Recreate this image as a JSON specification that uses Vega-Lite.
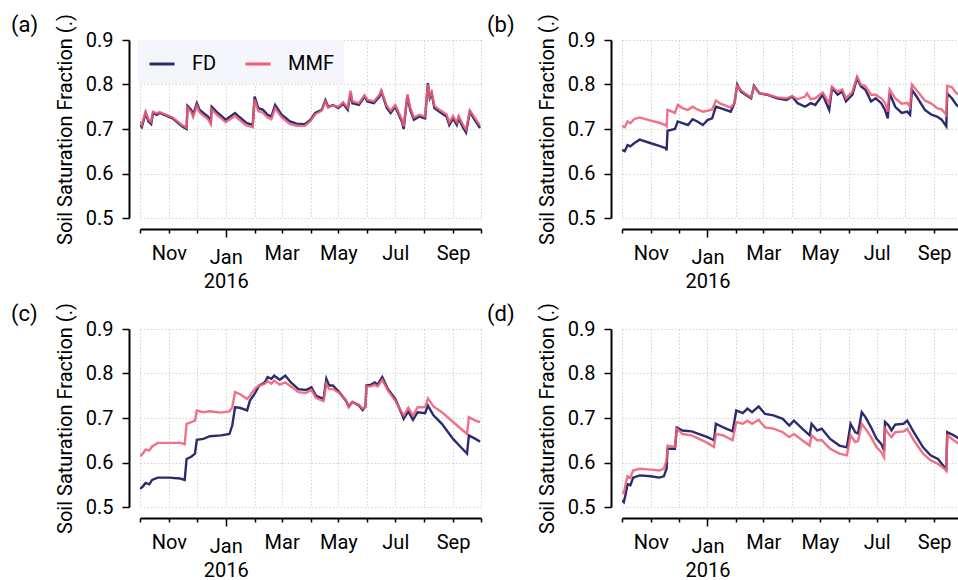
{
"$schema": "https://vega.github.io/schema/vega-lite/v6.json",
"background": "white",
"padding": {"left": 11, "top": 13, "right": 0, "bottom": 0},
"bounds": "flush",
"columns": 2,
"spacing": {"row": 111, "column": 141},
"datasets": {
"a": [
{"s":"FD","d":"2015-10-01","v":0.709},{"s":"FD","d":"2015-10-03","v":0.704},{"s":"FD","d":"2015-10-07","v":0.736},{"s":"FD","d":"2015-10-10","v":0.717},{"s":"FD","d":"2015-10-13","v":0.711},{"s":"FD","d":"2015-10-15","v":0.736},{"s":"FD","d":"2015-10-19","v":0.732},{"s":"FD","d":"2015-10-22","v":0.736},{"s":"FD","d":"2015-11-05","v":0.724},{"s":"FD","d":"2015-11-15","v":0.706},{"s":"FD","d":"2015-11-20","v":0.700},{"s":"FD","d":"2015-11-21","v":0.752},{"s":"FD","d":"2015-11-25","v":0.743},{"s":"FD","d":"2015-11-27","v":0.732},{"s":"FD","d":"2015-12-01","v":0.758},{"s":"FD","d":"2015-12-04","v":0.743},{"s":"FD","d":"2015-12-08","v":0.736},{"s":"FD","d":"2015-12-13","v":0.728},{"s":"FD","d":"2015-12-16","v":0.717},{"s":"FD","d":"2015-12-17","v":0.750},{"s":"FD","d":"2015-12-22","v":0.739},{"s":"FD","d":"2016-01-01","v":0.721},{"s":"FD","d":"2016-01-11","v":0.736},{"s":"FD","d":"2016-01-15","v":0.728},{"s":"FD","d":"2016-01-23","v":0.714},{"s":"FD","d":"2016-01-30","v":0.709},{"s":"FD","d":"2016-02-01","v":0.773},{"s":"FD","d":"2016-02-05","v":0.747},{"s":"FD","d":"2016-02-10","v":0.743},{"s":"FD","d":"2016-02-15","v":0.732},{"s":"FD","d":"2016-02-19","v":0.728},{"s":"FD","d":"2016-02-23","v":0.754},{"s":"FD","d":"2016-03-01","v":0.732},{"s":"FD","d":"2016-03-10","v":0.717},{"s":"FD","d":"2016-03-17","v":0.712},{"s":"FD","d":"2016-03-26","v":0.711},{"s":"FD","d":"2016-04-01","v":0.721},{"s":"FD","d":"2016-04-06","v":0.736},{"s":"FD","d":"2016-04-13","v":0.743},{"s":"FD","d":"2016-04-17","v":0.765},{"s":"FD","d":"2016-04-20","v":0.750},{"s":"FD","d":"2016-04-25","v":0.754},{"s":"FD","d":"2016-05-01","v":0.747},{"s":"FD","d":"2016-05-06","v":0.757},{"s":"FD","d":"2016-05-11","v":0.743},{"s":"FD","d":"2016-05-14","v":0.780},{"s":"FD","d":"2016-05-16","v":0.758},{"s":"FD","d":"2016-05-23","v":0.754},{"s":"FD","d":"2016-05-29","v":0.773},{"s":"FD","d":"2016-06-01","v":0.762},{"s":"FD","d":"2016-06-08","v":0.758},{"s":"FD","d":"2016-06-14","v":0.773},{"s":"FD","d":"2016-06-16","v":0.784},{"s":"FD","d":"2016-06-22","v":0.747},{"s":"FD","d":"2016-06-26","v":0.736},{"s":"FD","d":"2016-07-01","v":0.750},{"s":"FD","d":"2016-07-08","v":0.717},{"s":"FD","d":"2016-07-10","v":0.700},{"s":"FD","d":"2016-07-14","v":0.775},{"s":"FD","d":"2016-07-17","v":0.743},{"s":"FD","d":"2016-07-21","v":0.721},{"s":"FD","d":"2016-07-27","v":0.728},{"s":"FD","d":"2016-08-02","v":0.724},{"s":"FD","d":"2016-08-05","v":0.803},{"s":"FD","d":"2016-08-07","v":0.770},{"s":"FD","d":"2016-08-09","v":0.780},{"s":"FD","d":"2016-08-12","v":0.747},{"s":"FD","d":"2016-08-17","v":0.739},{"s":"FD","d":"2016-08-25","v":0.728},{"s":"FD","d":"2016-08-28","v":0.709},{"s":"FD","d":"2016-09-01","v":0.724},{"s":"FD","d":"2016-09-05","v":0.709},{"s":"FD","d":"2016-09-07","v":0.724},{"s":"FD","d":"2016-09-12","v":0.702},{"s":"FD","d":"2016-09-15","v":0.692},{"s":"FD","d":"2016-09-19","v":0.739},{"s":"FD","d":"2016-09-24","v":0.721},{"s":"FD","d":"2016-09-30","v":0.702},
{"s":"MMF","d":"2015-10-01","v":0.717},{"s":"MMF","d":"2015-10-03","v":0.709},{"s":"MMF","d":"2015-10-07","v":0.739},{"s":"MMF","d":"2015-10-10","v":0.722},{"s":"MMF","d":"2015-10-13","v":0.716},{"s":"MMF","d":"2015-10-15","v":0.739},{"s":"MMF","d":"2015-10-19","v":0.735},{"s":"MMF","d":"2015-10-22","v":0.738},{"s":"MMF","d":"2015-11-05","v":0.726},{"s":"MMF","d":"2015-11-15","v":0.709},{"s":"MMF","d":"2015-11-20","v":0.703},{"s":"MMF","d":"2015-11-21","v":0.748},{"s":"MMF","d":"2015-11-25","v":0.738},{"s":"MMF","d":"2015-11-27","v":0.727},{"s":"MMF","d":"2015-12-01","v":0.752},{"s":"MMF","d":"2015-12-04","v":0.737},{"s":"MMF","d":"2015-12-08","v":0.730},{"s":"MMF","d":"2015-12-13","v":0.722},{"s":"MMF","d":"2015-12-16","v":0.711},{"s":"MMF","d":"2015-12-17","v":0.744},{"s":"MMF","d":"2015-12-22","v":0.733},{"s":"MMF","d":"2016-01-01","v":0.715},{"s":"MMF","d":"2016-01-11","v":0.729},{"s":"MMF","d":"2016-01-15","v":0.722},{"s":"MMF","d":"2016-01-23","v":0.708},{"s":"MMF","d":"2016-01-30","v":0.704},{"s":"MMF","d":"2016-02-01","v":0.766},{"s":"MMF","d":"2016-02-05","v":0.740},{"s":"MMF","d":"2016-02-10","v":0.736},{"s":"MMF","d":"2016-02-15","v":0.726},{"s":"MMF","d":"2016-02-19","v":0.722},{"s":"MMF","d":"2016-02-23","v":0.747},{"s":"MMF","d":"2016-03-01","v":0.726},{"s":"MMF","d":"2016-03-10","v":0.711},{"s":"MMF","d":"2016-03-17","v":0.707},{"s":"MMF","d":"2016-03-26","v":0.707},{"s":"MMF","d":"2016-04-01","v":0.718},{"s":"MMF","d":"2016-04-06","v":0.733},{"s":"MMF","d":"2016-04-13","v":0.741},{"s":"MMF","d":"2016-04-17","v":0.762},{"s":"MMF","d":"2016-04-20","v":0.748},{"s":"MMF","d":"2016-04-25","v":0.753},{"s":"MMF","d":"2016-05-01","v":0.750},{"s":"MMF","d":"2016-05-06","v":0.760},{"s":"MMF","d":"2016-05-11","v":0.748},{"s":"MMF","d":"2016-05-14","v":0.786},{"s":"MMF","d":"2016-05-16","v":0.762},{"s":"MMF","d":"2016-05-23","v":0.758},{"s":"MMF","d":"2016-05-29","v":0.776},{"s":"MMF","d":"2016-06-01","v":0.766},{"s":"MMF","d":"2016-06-08","v":0.762},{"s":"MMF","d":"2016-06-14","v":0.777},{"s":"MMF","d":"2016-06-16","v":0.787},{"s":"MMF","d":"2016-06-22","v":0.752},{"s":"MMF","d":"2016-06-26","v":0.741},{"s":"MMF","d":"2016-07-01","v":0.754},{"s":"MMF","d":"2016-07-08","v":0.722},{"s":"MMF","d":"2016-07-10","v":0.706},{"s":"MMF","d":"2016-07-14","v":0.778},{"s":"MMF","d":"2016-07-17","v":0.748},{"s":"MMF","d":"2016-07-21","v":0.726},{"s":"MMF","d":"2016-07-27","v":0.732},{"s":"MMF","d":"2016-08-02","v":0.728},{"s":"MMF","d":"2016-08-05","v":0.800},{"s":"MMF","d":"2016-08-07","v":0.774},{"s":"MMF","d":"2016-08-09","v":0.783},{"s":"MMF","d":"2016-08-12","v":0.752},{"s":"MMF","d":"2016-08-17","v":0.744},{"s":"MMF","d":"2016-08-25","v":0.733},{"s":"MMF","d":"2016-08-28","v":0.715},{"s":"MMF","d":"2016-09-01","v":0.729},{"s":"MMF","d":"2016-09-05","v":0.715},{"s":"MMF","d":"2016-09-07","v":0.729},{"s":"MMF","d":"2016-09-12","v":0.708},{"s":"MMF","d":"2016-09-15","v":0.699},{"s":"MMF","d":"2016-09-19","v":0.742},{"s":"MMF","d":"2016-09-24","v":0.726},{"s":"MMF","d":"2016-09-30","v":0.708}
],
"b": [
{"s":"FD","d":"2015-10-01","v":0.653},{"s":"FD","d":"2015-10-04","v":0.650},{"s":"FD","d":"2015-10-07","v":0.664},{"s":"FD","d":"2015-10-10","v":0.661},{"s":"FD","d":"2015-10-14","v":0.668},{"s":"FD","d":"2015-10-20","v":0.676},{"s":"FD","d":"2015-11-01","v":0.668},{"s":"FD","d":"2015-11-10","v":0.662},{"s":"FD","d":"2015-11-17","v":0.657},{"s":"FD","d":"2015-11-18","v":0.652},{"s":"FD","d":"2015-11-19","v":0.696},{"s":"FD","d":"2015-11-27","v":0.700},{"s":"FD","d":"2015-11-30","v":0.717},{"s":"FD","d":"2015-12-05","v":0.713},{"s":"FD","d":"2015-12-11","v":0.709},{"s":"FD","d":"2015-12-16","v":0.722},{"s":"FD","d":"2015-12-21","v":0.717},{"s":"FD","d":"2015-12-27","v":0.709},{"s":"FD","d":"2016-01-01","v":0.720},{"s":"FD","d":"2016-01-06","v":0.724},{"s":"FD","d":"2016-01-10","v":0.750},{"s":"FD","d":"2016-01-15","v":0.747},{"s":"FD","d":"2016-01-26","v":0.739},{"s":"FD","d":"2016-01-30","v":0.758},{"s":"FD","d":"2016-02-02","v":0.800},{"s":"FD","d":"2016-02-06","v":0.784},{"s":"FD","d":"2016-02-11","v":0.777},{"s":"FD","d":"2016-02-17","v":0.769},{"s":"FD","d":"2016-02-20","v":0.797},{"s":"FD","d":"2016-02-26","v":0.780},{"s":"FD","d":"2016-03-05","v":0.777},{"s":"FD","d":"2016-03-16","v":0.769},{"s":"FD","d":"2016-03-26","v":0.765},{"s":"FD","d":"2016-04-01","v":0.773},{"s":"FD","d":"2016-04-07","v":0.758},{"s":"FD","d":"2016-04-15","v":0.750},{"s":"FD","d":"2016-04-21","v":0.758},{"s":"FD","d":"2016-04-26","v":0.754},{"s":"FD","d":"2016-05-04","v":0.777},{"s":"FD","d":"2016-05-11","v":0.743},{"s":"FD","d":"2016-05-14","v":0.792},{"s":"FD","d":"2016-05-20","v":0.777},{"s":"FD","d":"2016-05-25","v":0.784},{"s":"FD","d":"2016-05-29","v":0.762},{"s":"FD","d":"2016-06-05","v":0.777},{"s":"FD","d":"2016-06-10","v":0.814},{"s":"FD","d":"2016-06-14","v":0.796},{"s":"FD","d":"2016-06-19","v":0.788},{"s":"FD","d":"2016-06-25","v":0.762},{"s":"FD","d":"2016-06-30","v":0.769},{"s":"FD","d":"2016-07-06","v":0.758},{"s":"FD","d":"2016-07-10","v":0.743},{"s":"FD","d":"2016-07-13","v":0.724},{"s":"FD","d":"2016-07-15","v":0.780},{"s":"FD","d":"2016-07-21","v":0.750},{"s":"FD","d":"2016-07-28","v":0.736},{"s":"FD","d":"2016-08-03","v":0.739},{"s":"FD","d":"2016-08-06","v":0.732},{"s":"FD","d":"2016-08-08","v":0.788},{"s":"FD","d":"2016-08-13","v":0.773},{"s":"FD","d":"2016-08-22","v":0.743},{"s":"FD","d":"2016-08-29","v":0.732},{"s":"FD","d":"2016-09-04","v":0.728},{"s":"FD","d":"2016-09-09","v":0.721},{"s":"FD","d":"2016-09-14","v":0.706},{"s":"FD","d":"2016-09-15","v":0.780},{"s":"FD","d":"2016-09-20","v":0.769},{"s":"FD","d":"2016-09-25","v":0.754},{"s":"FD","d":"2016-09-30","v":0.745},
{"s":"MMF","d":"2015-10-01","v":0.707},{"s":"MMF","d":"2015-10-04","v":0.704},{"s":"MMF","d":"2015-10-07","v":0.717},{"s":"MMF","d":"2015-10-10","v":0.713},{"s":"MMF","d":"2015-10-14","v":0.722},{"s":"MMF","d":"2015-10-20","v":0.726},{"s":"MMF","d":"2015-11-01","v":0.719},{"s":"MMF","d":"2015-11-10","v":0.714},{"s":"MMF","d":"2015-11-17","v":0.709},{"s":"MMF","d":"2015-11-18","v":0.706},{"s":"MMF","d":"2015-11-19","v":0.743},{"s":"MMF","d":"2015-11-27","v":0.736},{"s":"MMF","d":"2015-11-30","v":0.754},{"s":"MMF","d":"2015-12-05","v":0.747},{"s":"MMF","d":"2015-12-11","v":0.743},{"s":"MMF","d":"2015-12-16","v":0.750},{"s":"MMF","d":"2015-12-21","v":0.744},{"s":"MMF","d":"2015-12-27","v":0.739},{"s":"MMF","d":"2016-01-01","v":0.741},{"s":"MMF","d":"2016-01-06","v":0.744},{"s":"MMF","d":"2016-01-10","v":0.764},{"s":"MMF","d":"2016-01-15","v":0.757},{"s":"MMF","d":"2016-01-26","v":0.748},{"s":"MMF","d":"2016-01-30","v":0.758},{"s":"MMF","d":"2016-02-02","v":0.797},{"s":"MMF","d":"2016-02-06","v":0.787},{"s":"MMF","d":"2016-02-11","v":0.779},{"s":"MMF","d":"2016-02-17","v":0.771},{"s":"MMF","d":"2016-02-20","v":0.795},{"s":"MMF","d":"2016-02-26","v":0.780},{"s":"MMF","d":"2016-03-05","v":0.778},{"s":"MMF","d":"2016-03-16","v":0.771},{"s":"MMF","d":"2016-03-26","v":0.769},{"s":"MMF","d":"2016-04-01","v":0.774},{"s":"MMF","d":"2016-04-07","v":0.767},{"s":"MMF","d":"2016-04-15","v":0.773},{"s":"MMF","d":"2016-04-17","v":0.780},{"s":"MMF","d":"2016-04-21","v":0.767},{"s":"MMF","d":"2016-04-26","v":0.769},{"s":"MMF","d":"2016-05-04","v":0.782},{"s":"MMF","d":"2016-05-11","v":0.758},{"s":"MMF","d":"2016-05-14","v":0.795},{"s":"MMF","d":"2016-05-20","v":0.784},{"s":"MMF","d":"2016-05-25","v":0.789},{"s":"MMF","d":"2016-05-29","v":0.769},{"s":"MMF","d":"2016-06-05","v":0.784},{"s":"MMF","d":"2016-06-10","v":0.818},{"s":"MMF","d":"2016-06-14","v":0.800},{"s":"MMF","d":"2016-06-19","v":0.796},{"s":"MMF","d":"2016-06-25","v":0.777},{"s":"MMF","d":"2016-06-30","v":0.777},{"s":"MMF","d":"2016-07-06","v":0.769},{"s":"MMF","d":"2016-07-10","v":0.759},{"s":"MMF","d":"2016-07-13","v":0.739},{"s":"MMF","d":"2016-07-15","v":0.789},{"s":"MMF","d":"2016-07-21","v":0.769},{"s":"MMF","d":"2016-07-28","v":0.757},{"s":"MMF","d":"2016-08-03","v":0.759},{"s":"MMF","d":"2016-08-06","v":0.750},{"s":"MMF","d":"2016-08-08","v":0.800},{"s":"MMF","d":"2016-08-13","v":0.787},{"s":"MMF","d":"2016-08-22","v":0.764},{"s":"MMF","d":"2016-08-29","v":0.757},{"s":"MMF","d":"2016-09-04","v":0.747},{"s":"MMF","d":"2016-09-09","v":0.744},{"s":"MMF","d":"2016-09-14","v":0.732},{"s":"MMF","d":"2016-09-15","v":0.797},{"s":"MMF","d":"2016-09-20","v":0.794},{"s":"MMF","d":"2016-09-25","v":0.780},{"s":"MMF","d":"2016-09-30","v":0.775}
],
"c": [
{"s":"FD","d":"2015-10-01","v":0.541},{"s":"FD","d":"2015-10-04","v":0.546},{"s":"FD","d":"2015-10-07","v":0.554},{"s":"FD","d":"2015-10-11","v":0.551},{"s":"FD","d":"2015-10-14","v":0.561},{"s":"FD","d":"2015-10-20","v":0.566},{"s":"FD","d":"2015-11-01","v":0.566},{"s":"FD","d":"2015-11-13","v":0.564},{"s":"FD","d":"2015-11-18","v":0.561},{"s":"FD","d":"2015-11-20","v":0.608},{"s":"FD","d":"2015-11-25","v":0.613},{"s":"FD","d":"2015-11-29","v":0.620},{"s":"FD","d":"2015-12-01","v":0.651},{"s":"FD","d":"2015-12-08","v":0.653},{"s":"FD","d":"2015-12-15","v":0.659},{"s":"FD","d":"2015-12-27","v":0.661},{"s":"FD","d":"2016-01-05","v":0.664},{"s":"FD","d":"2016-01-08","v":0.683},{"s":"FD","d":"2016-01-11","v":0.724},{"s":"FD","d":"2016-01-16","v":0.723},{"s":"FD","d":"2016-01-24","v":0.717},{"s":"FD","d":"2016-01-27","v":0.739},{"s":"FD","d":"2016-02-01","v":0.754},{"s":"FD","d":"2016-02-06","v":0.773},{"s":"FD","d":"2016-02-12","v":0.780},{"s":"FD","d":"2016-02-15","v":0.792},{"s":"FD","d":"2016-02-19","v":0.788},{"s":"FD","d":"2016-02-22","v":0.795},{"s":"FD","d":"2016-02-28","v":0.786},{"s":"FD","d":"2016-03-05","v":0.795},{"s":"FD","d":"2016-03-11","v":0.780},{"s":"FD","d":"2016-03-19","v":0.765},{"s":"FD","d":"2016-03-27","v":0.763},{"s":"FD","d":"2016-04-02","v":0.769},{"s":"FD","d":"2016-04-07","v":0.750},{"s":"FD","d":"2016-04-15","v":0.743},{"s":"FD","d":"2016-04-18","v":0.788},{"s":"FD","d":"2016-04-21","v":0.773},{"s":"FD","d":"2016-04-25","v":0.773},{"s":"FD","d":"2016-05-02","v":0.758},{"s":"FD","d":"2016-05-09","v":0.739},{"s":"FD","d":"2016-05-12","v":0.726},{"s":"FD","d":"2016-05-16","v":0.736},{"s":"FD","d":"2016-05-23","v":0.728},{"s":"FD","d":"2016-05-27","v":0.718},{"s":"FD","d":"2016-05-30","v":0.726},{"s":"FD","d":"2016-05-31","v":0.773},{"s":"FD","d":"2016-06-05","v":0.775},{"s":"FD","d":"2016-06-09","v":0.780},{"s":"FD","d":"2016-06-12","v":0.775},{"s":"FD","d":"2016-06-17","v":0.792},{"s":"FD","d":"2016-06-23","v":0.765},{"s":"FD","d":"2016-07-01","v":0.743},{"s":"FD","d":"2016-07-08","v":0.709},{"s":"FD","d":"2016-07-10","v":0.698},{"s":"FD","d":"2016-07-15","v":0.715},{"s":"FD","d":"2016-07-20","v":0.696},{"s":"FD","d":"2016-07-25","v":0.713},{"s":"FD","d":"2016-08-02","v":0.711},{"s":"FD","d":"2016-08-05","v":0.728},{"s":"FD","d":"2016-08-11","v":0.706},{"s":"FD","d":"2016-08-20","v":0.687},{"s":"FD","d":"2016-09-01","v":0.653},{"s":"FD","d":"2016-09-11","v":0.631},{"s":"FD","d":"2016-09-16","v":0.620},{"s":"FD","d":"2016-09-18","v":0.661},{"s":"FD","d":"2016-09-25","v":0.653},{"s":"FD","d":"2016-09-30","v":0.647},
{"s":"MMF","d":"2015-10-01","v":0.614},{"s":"MMF","d":"2015-10-04","v":0.620},{"s":"MMF","d":"2015-10-07","v":0.629},{"s":"MMF","d":"2015-10-11","v":0.627},{"s":"MMF","d":"2015-10-14","v":0.636},{"s":"MMF","d":"2015-10-20","v":0.644},{"s":"MMF","d":"2015-11-01","v":0.644},{"s":"MMF","d":"2015-11-13","v":0.644},{"s":"MMF","d":"2015-11-18","v":0.641},{"s":"MMF","d":"2015-11-20","v":0.687},{"s":"MMF","d":"2015-11-25","v":0.691},{"s":"MMF","d":"2015-11-29","v":0.694},{"s":"MMF","d":"2015-12-01","v":0.717},{"s":"MMF","d":"2015-12-08","v":0.713},{"s":"MMF","d":"2015-12-15","v":0.715},{"s":"MMF","d":"2015-12-27","v":0.712},{"s":"MMF","d":"2016-01-05","v":0.715},{"s":"MMF","d":"2016-01-08","v":0.724},{"s":"MMF","d":"2016-01-11","v":0.758},{"s":"MMF","d":"2016-01-16","v":0.754},{"s":"MMF","d":"2016-01-24","v":0.743},{"s":"MMF","d":"2016-01-27","v":0.750},{"s":"MMF","d":"2016-02-01","v":0.765},{"s":"MMF","d":"2016-02-06","v":0.773},{"s":"MMF","d":"2016-02-12","v":0.777},{"s":"MMF","d":"2016-02-15","v":0.783},{"s":"MMF","d":"2016-02-19","v":0.777},{"s":"MMF","d":"2016-02-22","v":0.784},{"s":"MMF","d":"2016-02-28","v":0.775},{"s":"MMF","d":"2016-03-05","v":0.780},{"s":"MMF","d":"2016-03-11","v":0.771},{"s":"MMF","d":"2016-03-19","v":0.758},{"s":"MMF","d":"2016-03-27","v":0.756},{"s":"MMF","d":"2016-04-02","v":0.763},{"s":"MMF","d":"2016-04-07","v":0.745},{"s":"MMF","d":"2016-04-15","v":0.738},{"s":"MMF","d":"2016-04-18","v":0.777},{"s":"MMF","d":"2016-04-21","v":0.765},{"s":"MMF","d":"2016-04-25","v":0.765},{"s":"MMF","d":"2016-05-02","v":0.756},{"s":"MMF","d":"2016-05-09","v":0.739},{"s":"MMF","d":"2016-05-12","v":0.724},{"s":"MMF","d":"2016-05-16","v":0.736},{"s":"MMF","d":"2016-05-23","v":0.730},{"s":"MMF","d":"2016-05-27","v":0.721},{"s":"MMF","d":"2016-05-30","v":0.724},{"s":"MMF","d":"2016-05-31","v":0.771},{"s":"MMF","d":"2016-06-05","v":0.771},{"s":"MMF","d":"2016-06-09","v":0.775},{"s":"MMF","d":"2016-06-12","v":0.771},{"s":"MMF","d":"2016-06-17","v":0.786},{"s":"MMF","d":"2016-06-23","v":0.762},{"s":"MMF","d":"2016-07-01","v":0.739},{"s":"MMF","d":"2016-07-08","v":0.713},{"s":"MMF","d":"2016-07-10","v":0.706},{"s":"MMF","d":"2016-07-15","v":0.723},{"s":"MMF","d":"2016-07-20","v":0.706},{"s":"MMF","d":"2016-07-25","v":0.724},{"s":"MMF","d":"2016-08-02","v":0.724},{"s":"MMF","d":"2016-08-05","v":0.744},{"s":"MMF","d":"2016-08-11","v":0.726},{"s":"MMF","d":"2016-08-20","v":0.713},{"s":"MMF","d":"2016-09-01","v":0.691},{"s":"MMF","d":"2016-09-11","v":0.673},{"s":"MMF","d":"2016-09-16","v":0.664},{"s":"MMF","d":"2016-09-18","v":0.702},{"s":"MMF","d":"2016-09-25","v":0.694},{"s":"MMF","d":"2016-09-30","v":0.691}
],
"d": [
{"s":"FD","d":"2015-10-01","v":0.515},{"s":"FD","d":"2015-10-03","v":0.511},{"s":"FD","d":"2015-10-05","v":0.530},{"s":"FD","d":"2015-10-07","v":0.551},{"s":"FD","d":"2015-10-10","v":0.549},{"s":"FD","d":"2015-10-13","v":0.566},{"s":"FD","d":"2015-10-20","v":0.571},{"s":"FD","d":"2015-11-01","v":0.569},{"s":"FD","d":"2015-11-10","v":0.566},{"s":"FD","d":"2015-11-15","v":0.569},{"s":"FD","d":"2015-11-18","v":0.586},{"s":"FD","d":"2015-11-19","v":0.631},{"s":"FD","d":"2015-11-27","v":0.631},{"s":"FD","d":"2015-11-29","v":0.679},{"s":"FD","d":"2015-12-05","v":0.672},{"s":"FD","d":"2015-12-15","v":0.670},{"s":"FD","d":"2016-01-01","v":0.657},{"s":"FD","d":"2016-01-08","v":0.650},{"s":"FD","d":"2016-01-10","v":0.687},{"s":"FD","d":"2016-01-18","v":0.679},{"s":"FD","d":"2016-01-28","v":0.670},{"s":"FD","d":"2016-02-01","v":0.717},{"s":"FD","d":"2016-02-08","v":0.711},{"s":"FD","d":"2016-02-13","v":0.721},{"s":"FD","d":"2016-02-18","v":0.713},{"s":"FD","d":"2016-02-25","v":0.726},{"s":"FD","d":"2016-03-03","v":0.709},{"s":"FD","d":"2016-03-12","v":0.706},{"s":"FD","d":"2016-03-22","v":0.698},{"s":"FD","d":"2016-03-29","v":0.683},{"s":"FD","d":"2016-04-03","v":0.694},{"s":"FD","d":"2016-04-12","v":0.676},{"s":"FD","d":"2016-04-20","v":0.661},{"s":"FD","d":"2016-04-22","v":0.687},{"s":"FD","d":"2016-04-28","v":0.672},{"s":"FD","d":"2016-05-03","v":0.676},{"s":"FD","d":"2016-05-12","v":0.653},{"s":"FD","d":"2016-05-22","v":0.638},{"s":"FD","d":"2016-05-30","v":0.634},{"s":"FD","d":"2016-06-03","v":0.687},{"s":"FD","d":"2016-06-08","v":0.668},{"s":"FD","d":"2016-06-11","v":0.665},{"s":"FD","d":"2016-06-15","v":0.713},{"s":"FD","d":"2016-06-19","v":0.702},{"s":"FD","d":"2016-06-25","v":0.679},{"s":"FD","d":"2016-07-01","v":0.653},{"s":"FD","d":"2016-07-06","v":0.642},{"s":"FD","d":"2016-07-09","v":0.627},{"s":"FD","d":"2016-07-10","v":0.691},{"s":"FD","d":"2016-07-14","v":0.683},{"s":"FD","d":"2016-07-17","v":0.672},{"s":"FD","d":"2016-07-21","v":0.685},{"s":"FD","d":"2016-07-30","v":0.687},{"s":"FD","d":"2016-08-03","v":0.694},{"s":"FD","d":"2016-08-10","v":0.668},{"s":"FD","d":"2016-08-20","v":0.634},{"s":"FD","d":"2016-08-28","v":0.616},{"s":"FD","d":"2016-09-05","v":0.608},{"s":"FD","d":"2016-09-12","v":0.590},{"s":"FD","d":"2016-09-14","v":0.586},{"s":"FD","d":"2016-09-15","v":0.668},{"s":"FD","d":"2016-09-22","v":0.661},{"s":"FD","d":"2016-09-30","v":0.650},
{"s":"MMF","d":"2015-10-01","v":0.534},{"s":"MMF","d":"2015-10-03","v":0.531},{"s":"MMF","d":"2015-10-05","v":0.552},{"s":"MMF","d":"2015-10-07","v":0.569},{"s":"MMF","d":"2015-10-10","v":0.566},{"s":"MMF","d":"2015-10-13","v":0.582},{"s":"MMF","d":"2015-10-20","v":0.586},{"s":"MMF","d":"2015-11-01","v":0.584},{"s":"MMF","d":"2015-11-10","v":0.582},{"s":"MMF","d":"2015-11-15","v":0.586},{"s":"MMF","d":"2015-11-18","v":0.605},{"s":"MMF","d":"2015-11-19","v":0.638},{"s":"MMF","d":"2015-11-27","v":0.635},{"s":"MMF","d":"2015-11-29","v":0.676},{"s":"MMF","d":"2015-12-05","v":0.664},{"s":"MMF","d":"2015-12-15","v":0.661},{"s":"MMF","d":"2016-01-01","v":0.644},{"s":"MMF","d":"2016-01-08","v":0.635},{"s":"MMF","d":"2016-01-10","v":0.664},{"s":"MMF","d":"2016-01-18","v":0.661},{"s":"MMF","d":"2016-01-28","v":0.650},{"s":"MMF","d":"2016-02-01","v":0.691},{"s":"MMF","d":"2016-02-08","v":0.687},{"s":"MMF","d":"2016-02-13","v":0.694},{"s":"MMF","d":"2016-02-18","v":0.687},{"s":"MMF","d":"2016-02-25","v":0.696},{"s":"MMF","d":"2016-03-03","v":0.679},{"s":"MMF","d":"2016-03-12","v":0.676},{"s":"MMF","d":"2016-03-22","v":0.668},{"s":"MMF","d":"2016-03-29","v":0.657},{"s":"MMF","d":"2016-04-03","v":0.664},{"s":"MMF","d":"2016-04-12","v":0.650},{"s":"MMF","d":"2016-04-20","v":0.638},{"s":"MMF","d":"2016-04-22","v":0.661},{"s":"MMF","d":"2016-04-28","v":0.650},{"s":"MMF","d":"2016-05-03","v":0.650},{"s":"MMF","d":"2016-05-12","v":0.631},{"s":"MMF","d":"2016-05-22","v":0.620},{"s":"MMF","d":"2016-05-30","v":0.616},{"s":"MMF","d":"2016-06-03","v":0.661},{"s":"MMF","d":"2016-06-08","v":0.646},{"s":"MMF","d":"2016-06-11","v":0.648},{"s":"MMF","d":"2016-06-15","v":0.687},{"s":"MMF","d":"2016-06-19","v":0.676},{"s":"MMF","d":"2016-06-25","v":0.657},{"s":"MMF","d":"2016-07-01","v":0.634},{"s":"MMF","d":"2016-07-06","v":0.623},{"s":"MMF","d":"2016-07-09","v":0.612},{"s":"MMF","d":"2016-07-10","v":0.676},{"s":"MMF","d":"2016-07-14","v":0.664},{"s":"MMF","d":"2016-07-17","v":0.657},{"s":"MMF","d":"2016-07-21","v":0.668},{"s":"MMF","d":"2016-07-30","v":0.670},{"s":"MMF","d":"2016-08-03","v":0.676},{"s":"MMF","d":"2016-08-10","v":0.650},{"s":"MMF","d":"2016-08-20","v":0.620},{"s":"MMF","d":"2016-08-28","v":0.605},{"s":"MMF","d":"2016-09-05","v":0.597},{"s":"MMF","d":"2016-09-12","v":0.586},{"s":"MMF","d":"2016-09-14","v":0.581},{"s":"MMF","d":"2016-09-15","v":0.661},{"s":"MMF","d":"2016-09-22","v":0.650},{"s":"MMF","d":"2016-09-30","v":0.638}
]
},
"resolve": {"scale": {"x": "independent", "y": "independent", "color": "independent"}, "legend": {"color": "independent"}},
"config": {
  "font": "Roboto",
  "view": {"stroke": null},
  "title": {"font": "Roboto", "fontSize": 22, "fontWeight": "normal", "color": "black", "anchor": "start", "frame": "group", "offset": -23},
  "axis": {
    "labelFont": "Roboto", "labelFontSize": 20, "labelColor": "black",
    "titleFont": "Roboto", "titleFontSize": 20, "titleFontWeight": "normal", "titleColor": "black",
    "domainColor": "black", "domainWidth": 2, "tickColor": "black", "tickWidth": 1.5,
    "grid": true, "gridColor": "#d2d2d2", "gridDash": [1.5, 2], "gridWidth": 1,
    "labelOverlap": false, "labelBound": false, "labelFlush": false
  },
  "legend": {"labelFont": "Roboto"}
},
"concat": [
{
  "width": 341, "height": 178,
  "title": {"text": "(a)", "dx": -129},
  "data": {"name": "a"},
  "mark": {"type": "line", "strokeWidth": 2.4, "clip": true},
  "encoding": {
    "x": {"field": "d", "type": "temporal",
      "scale": {"type": "utc", "domain": [{"year": 2015, "month": 10, "date": 1, "utc": true}, {"year": 2016, "month": 10, "date": 1, "utc": true}]},
      "axis": {"title": null, "offset": 11, "tickCount": {"interval": "month", "step": 1},
        "tickSize": {"condition": {"test": "utcmonth(datum.value) == 0", "value": 8}, "value": 4},
        "labelPadding": 10, "labelLineHeight": 24,
        "labelExpr": "utcmonth(datum.value) % 2 == 1 ? '' : (utcmonth(datum.value) == 0 ? [utcFormat(datum.value, '%b'), utcFormat(datum.value, '%Y')] : utcFormat(datum.value, '%b'))"}},
    "y": {"field": "v", "type": "quantitative",
      "scale": {"domain": [0.5, 0.9], "nice": false, "zero": false},
      "axis": {"title": "Soil Saturation Fraction (.)", "values": [0.5, 0.6, 0.7, 0.8, 0.9], "format": ".1f", "offset": 11, "tickSize": 7, "labelPadding": 9, "titlePadding": 10}},
    "color": {"field": "s", "type": "nominal",
      "scale": {"domain": ["FD", "MMF"], "range": ["#2b2c6f", "#ef5d78"]},
      "legend": {"orient": "none", "legendX": -2, "legendY": 0, "direction": "horizontal", "title": null,
        "symbolType": "stroke", "symbolSize": 625, "symbolStrokeWidth": 3, "labelFontSize": 20, "labelColor": "black",
        "labelOffset": 16, "columnPadding": 22, "padding": 10, "fillColor": "#f4f6fb"}},
    "opacity": {"condition": {"test": "datum.s == 'MMF'", "value": 0.88}, "value": 1}
  }
},
{
  "width": 336, "height": 178,
  "title": {"text": "(b)", "dx": -135},
  "data": {"name": "b"},
  "mark": {"type": "line", "strokeWidth": 2.4, "clip": true},
  "encoding": {
    "x": {"field": "d", "type": "temporal",
      "scale": {"type": "utc", "domain": [{"year": 2015, "month": 10, "date": 1, "utc": true}, {"year": 2016, "month": 9, "date": 26, "hours": 14, "utc": true}]},
      "axis": {"title": null, "offset": 11, "tickCount": {"interval": "month", "step": 1},
        "tickSize": {"condition": {"test": "utcmonth(datum.value) == 0", "value": 8}, "value": 4},
        "labelPadding": 10, "labelLineHeight": 24,
        "labelExpr": "utcmonth(datum.value) % 2 == 1 ? '' : (utcmonth(datum.value) == 0 ? [utcFormat(datum.value, '%b'), utcFormat(datum.value, '%Y')] : utcFormat(datum.value, '%b'))"}},
    "y": {"field": "v", "type": "quantitative",
      "scale": {"domain": [0.5, 0.9], "nice": false, "zero": false},
      "axis": {"title": "Soil Saturation Fraction (.)", "values": [0.5, 0.6, 0.7, 0.8, 0.9], "format": ".1f", "offset": 11, "tickSize": 7, "labelPadding": 9, "titlePadding": 10}},
    "color": {"field": "s", "type": "nominal", "scale": {"domain": ["FD", "MMF"], "range": ["#2b2c6f", "#ef5d78"]}, "legend": null},
    "opacity": {"condition": {"test": "datum.s == 'MMF'", "value": 0.88}, "value": 1}
  }
},
{
  "width": 341, "height": 178,
  "title": {"text": "(c)", "dx": -129},
  "data": {"name": "c"},
  "mark": {"type": "line", "strokeWidth": 2.4, "clip": true},
  "encoding": {
    "x": {"field": "d", "type": "temporal",
      "scale": {"type": "utc", "domain": [{"year": 2015, "month": 10, "date": 1, "utc": true}, {"year": 2016, "month": 10, "date": 1, "utc": true}]},
      "axis": {"title": null, "offset": 11, "tickCount": {"interval": "month", "step": 1},
        "tickSize": {"condition": {"test": "utcmonth(datum.value) == 0", "value": 8}, "value": 4},
        "labelPadding": 10, "labelLineHeight": 24,
        "labelExpr": "utcmonth(datum.value) % 2 == 1 ? '' : (utcmonth(datum.value) == 0 ? [utcFormat(datum.value, '%b'), utcFormat(datum.value, '%Y')] : utcFormat(datum.value, '%b'))"}},
    "y": {"field": "v", "type": "quantitative",
      "scale": {"domain": [0.5, 0.9], "nice": false, "zero": false},
      "axis": {"title": "Soil Saturation Fraction (.)", "values": [0.5, 0.6, 0.7, 0.8, 0.9], "format": ".1f", "offset": 11, "tickSize": 7, "labelPadding": 9, "titlePadding": 10}},
    "color": {"field": "s", "type": "nominal", "scale": {"domain": ["FD", "MMF"], "range": ["#2b2c6f", "#ef5d78"]}, "legend": null},
    "opacity": {"condition": {"test": "datum.s == 'MMF'", "value": 0.88}, "value": 1}
  }
},
{
  "width": 336, "height": 178,
  "title": {"text": "(d)", "dx": -135},
  "data": {"name": "d"},
  "mark": {"type": "line", "strokeWidth": 2.4, "clip": true},
  "encoding": {
    "x": {"field": "d", "type": "temporal",
      "scale": {"type": "utc", "domain": [{"year": 2015, "month": 10, "date": 1, "utc": true}, {"year": 2016, "month": 9, "date": 26, "hours": 14, "utc": true}]},
      "axis": {"title": null, "offset": 11, "tickCount": {"interval": "month", "step": 1},
        "tickSize": {"condition": {"test": "utcmonth(datum.value) == 0", "value": 8}, "value": 4},
        "labelPadding": 10, "labelLineHeight": 24,
        "labelExpr": "utcmonth(datum.value) % 2 == 1 ? '' : (utcmonth(datum.value) == 0 ? [utcFormat(datum.value, '%b'), utcFormat(datum.value, '%Y')] : utcFormat(datum.value, '%b'))"}},
    "y": {"field": "v", "type": "quantitative",
      "scale": {"domain": [0.5, 0.9], "nice": false, "zero": false},
      "axis": {"title": "Soil Saturation Fraction (.)", "values": [0.5, 0.6, 0.7, 0.8, 0.9], "format": ".1f", "offset": 11, "tickSize": 7, "labelPadding": 9, "titlePadding": 10}},
    "color": {"field": "s", "type": "nominal", "scale": {"domain": ["FD", "MMF"], "range": ["#2b2c6f", "#ef5d78"]}, "legend": null},
    "opacity": {"condition": {"test": "datum.s == 'MMF'", "value": 0.88}, "value": 1}
  }
}
]
}
